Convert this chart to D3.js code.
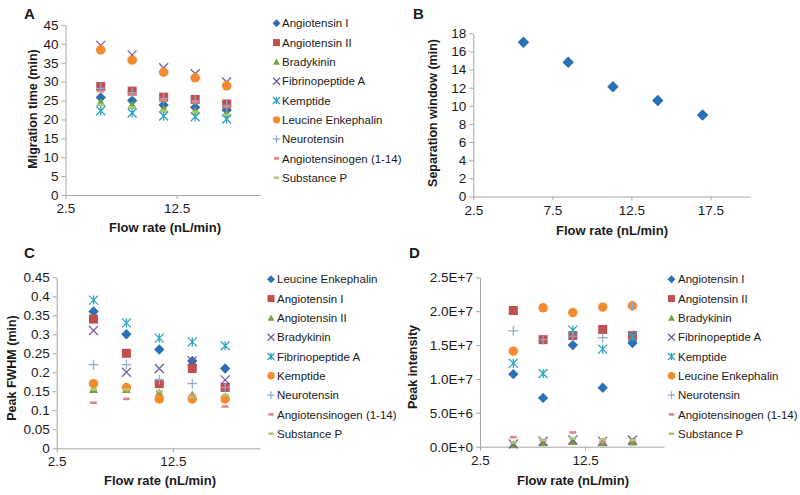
<!DOCTYPE html>
<html><head><meta charset="utf-8">
<script src="https://cdn.jsdelivr.net/npm/d3@7"></script>
<style>body{margin:0;background:#fff} svg text{font-family:Arial,"Liberation Sans",sans-serif;fill:#1a1a1a}</style>
</head><body><svg id="c" width="800" height="495"></svg>
<script>
// ---------- data ----------
const flowRates = [5.67, 8.5, 11.33, 14.17, 17.0];

const seriesNamesAD = ["Angiotensin I","Angiotensin II","Bradykinin","Fibrinopeptide A","Kemptide","Leucine Enkephalin","Neurotensin","Angiotensinogen (1-14)","Substance P"];
const seriesNamesC  = ["Leucine Enkephalin","Angiotensin I","Angiotensin II","Bradykinin","Fibrinopeptide A","Kemptide","Neurotensin","Angiotensinogen (1-14)","Substance P"];

// Panel A: migration time (min)
const migAngI     = [25.8, 25.0, 23.8, 23.2, 22.5];
const migAngII    = [28.7, 27.5, 25.9, 25.3, 24.1];
const migBrady    = [24.5, 23.8, 22.8, 22.3, 21.6];
const migFibA     = [39.6, 37.1, 33.7, 32.1, 29.9];
const migKemp     = [22.3, 21.7, 20.9, 20.7, 20.1];
const migLeuEnk   = [38.4, 35.7, 32.5, 31.0, 28.9];
const migNeuro    = [28.2, 27.1, 25.6, 25.0, 23.7];
const migAgen     = [27.5, 26.6, 25.2, 24.6, 23.4];
const migSubP     = [23.9, 23.2, 22.3, 21.9, 21.2];

// Panel B: separation window (min)
const sepWindow = [17.0, 14.8, 12.1, 10.6, 9.0];

// Panel C: peak FWHM (min) (legend order of panel C)
const fwhmLeuEnk = [0.36, 0.30, 0.26, 0.23, 0.21];
const fwhmAngI   = [0.34, 0.25, 0.17, 0.21, 0.16];
const fwhmAngII  = [0.155, 0.155, 0.145, 0.14, 0.135];
const fwhmBrady  = [0.31, 0.20, 0.21, 0.23, 0.18];
const fwhmFibA   = [0.39, 0.33, 0.29, 0.28, 0.27];
const fwhmKemp   = [0.17, 0.16, 0.13, 0.13, 0.13];
const fwhmNeuro  = [0.22, 0.22, 0.18, 0.17, 0.16];
const fwhmAgen   = [0.12, 0.13, 0.15, 0.14, 0.11];
const fwhmSubP   = [0.155, 0.155, 0.15, 0.135, 0.14];

// Panel D: peak intensity
const intAngI   = [10.7e6, 7.2e6, 15.0e6, 8.7e6, 15.3e6];
const intAngII  = [20.1e6, 15.8e6, 16.4e6, 17.3e6, 16.4e6];
const intBrady  = [0.3e6, 0.6e6, 0.8e6, 0.6e6, 0.7e6];
const intFibA   = [0.4e6, 0.8e6, 1.0e6, 0.8e6, 1.0e6];
const intKemp   = [12.3e6, 10.8e6, 17.2e6, 14.4e6, 16.2e6];
const intLeuEnk = [14.1e6, 20.5e6, 19.8e6, 20.6e6, 20.8e6];
const intNeuro  = [17.1e6, 15.8e6, 16.3e6, 16.1e6, 20.8e6];
const intAgen   = [1.4e6, 0.9e6, 2.1e6, 0.7e6, 0.9e6];
const intSubP   = [0.6e6, 1.0e6, 1.2e6, 1.1e6, 1.0e6];

// ticks
const xTicksA = [2.5, 12.5];
const xTicksB = [2.5, 7.5, 12.5, 17.5];
const xTicksC = [2.5, 12.5];
const xTicksD = [2.5, 12.5];
const yTicksA = [0,5,10,15,20,25,30,35,40,45];
const yTicksB = [0,2,4,6,8,10,12,14,16,18];
const yTicksC = [0,0.05,0.1,0.15,0.2,0.25,0.3,0.35,0.4,0.45];
const yTickLabelsC = ["0","0.05","0.1","0.15","0.2","0.25","0.3","0.35","0.4","0.45"];
const yTicksD = [0,5e6,1e7,1.5e7,2e7,2.5e7];
const yTickLabelsD = ["0.0E+0","5.0E+6","1.0E+7","1.5E+7","2.0E+7","2.5E+7"];

// ---------- styles ----------
const markerStyles = [
  {type:"diamond", color:"#2b70b4"},
  {type:"square",  color:"#c0504d"},
  {type:"triangle",color:"#77a33d"},
  {type:"x",       color:"#7a5ca0"},
  {type:"star",    color:"#2aa3c0"},
  {type:"circle",  color:"#f58a2e"},
  {type:"plus",    color:"#8fa9d3"},
  {type:"dash",    color:"#e0868a"},
  {type:"dash",    color:"#a9c97e"}
];

const svg = d3.select("#c");

function drawMarker(g, type, color, s) {
  const h = s/2;
  switch(type){
    case "diamond": g.append("path").attr("d",`M0,${-h*1.15}L${h*1.15},0L0,${h*1.15}L${-h*1.15},0Z`).attr("fill",color); break;
    case "square": g.append("rect").attr("x",-h).attr("y",-h).attr("width",s).attr("height",s).attr("fill",color); break;
    case "triangle": g.append("path").attr("d",`M0,${-h}L${h},${h*0.8}L${-h},${h*0.8}Z`).attr("fill",color); break;
    case "circle": g.append("circle").attr("r",h*1.05).attr("fill",color); break;
    case "x": g.append("path").attr("d",`M${-h},${-h}L${h},${h}M${h},${-h}L${-h},${h}`).attr("stroke",color).attr("stroke-width",1.3).attr("fill","none"); break;
    case "star": g.append("path").attr("d",`M${-h},${-h}L${h},${h}M${h},${-h}L${-h},${h}M0,${-h}L0,${h}`).attr("stroke",color).attr("stroke-width",1.3).attr("fill","none"); break;
    case "plus": g.append("path").attr("d",`M${-h*1.1},0L${h*1.1},0M0,${-h*1.1}L0,${h*1.1}`).attr("stroke",color).attr("stroke-width",1.2).attr("fill","none"); break;
    case "dash": g.append("rect").attr("x",-h*0.75).attr("y",-1.3).attr("width",h*1.5).attr("height",2.6).attr("fill",color); break;
  }
}

function panel(o){
  const x = d3.scaleLinear().domain([2.5,20]).range([o.x0,o.x1]);
  const y = d3.scaleLinear().domain([0,o.ymax]).range([o.y0,o.y1]);
  const ga = svg.append("g").attr("transform",`translate(0,${o.y0})`)
    .call(d3.axisBottom(x).tickValues(o.xticks).tickSize(4).tickSizeOuter(0).tickFormat(d3.format("")));
  const gy = svg.append("g").attr("transform",`translate(${o.x0},0)`)
    .call(d3.axisLeft(y).tickValues(o.yticks).tickSize(4).tickSizeOuter(0)
      .tickFormat((d,i)=> o.ylabels ? o.ylabels[i] : d3.format("")(d)));
  [ga,gy].forEach(g=>{
    g.select(".domain").attr("stroke","#a6a6a6");
    g.selectAll(".tick line").attr("stroke","#a6a6a6");
    g.selectAll(".tick text").attr("font-size",13.5).attr("fill","#1a1a1a");
  });
  ga.selectAll(".tick text").attr("dy","0.9em").attr("y",6);
  gy.selectAll(".tick text").attr("x",-7);
  // titles
  svg.append("text").attr("x",o.xtx).attr("y",o.xty).attr("text-anchor","middle")
    .attr("font-size",13).attr("font-weight","bold").text("Flow rate (nL/min)");
  svg.append("text").attr("transform",`translate(${o.ytx},${o.yty}) rotate(-90)`).attr("text-anchor","middle")
    .attr("dy","0.35em").attr("font-size",12.5).attr("font-weight","bold").text(o.ytitle);
  svg.append("text").attr("x",o.lx).attr("y",o.ly).attr("font-size",15).attr("font-weight","bold").text(o.letter);
  // series
  o.series.forEach((vals,si)=>{
    const st = markerStyles[si];
    vals.forEach((v,i)=>{
      const g = svg.append("g").attr("transform",`translate(${x(flowRates[i])},${y(v)})`);
      drawMarker(g, st.type, st.color, o.ms || 9);
    });
  });
  // legend
  if(o.names){
    o.names.forEach((n,i)=>{
      const yy = o.legY + i*19.3;
      const st = markerStyles[i];
      const g = svg.append("g").attr("transform",`translate(${o.legMx},${yy})`);
      drawMarker(g, st.type, st.color, 7);
      svg.append("text").attr("x",o.legTx).attr("y",yy).attr("dy","0.36em").attr("font-size",11.5).text(n);
    });
  }
}

panel({letter:"A", lx:24, ly:19, x0:65.5, x1:260, y0:195, y1:25, ymax:45,
  xticks:xTicksA, yticks:yTicksA, ytitle:"Migration time (min)", ytx:33, yty:109, xtx:165, xty:232,
  series:[migAngI,migAngII,migBrady,migFibA,migKemp,migLeuEnk,migNeuro,migAgen,migSubP],
  names:seriesNamesAD, legY:23.3, legMx:276.5, legTx:282});

panel({letter:"B", lx:413, ly:19, x0:473.3, x1:750, y0:196.5, y1:33.3, ymax:18,
  xticks:xTicksB, yticks:yTicksB, ytitle:"Separation window (min)", ytx:433, yty:113, xtx:612, xty:235,
  series:[sepWindow], ms:10});

panel({letter:"C", lx:24, ly:258, x0:56.7, x1:260, y0:448.3, y1:277.3, ymax:0.45,
  xticks:xTicksC, yticks:yTicksC, ylabels:yTickLabelsC, ytitle:"Peak FWHM (min)", ytx:12, yty:368, xtx:160, xty:485,
  series:[fwhmLeuEnk,fwhmAngI,fwhmAngII,fwhmBrady,fwhmFibA,fwhmKemp,fwhmNeuro,fwhmAgen,fwhmSubP],
  names:seriesNamesC, legY:279.3, legMx:271, legTx:277});

panel({letter:"D", lx:409, ly:258, x0:480, x1:664, y0:446.7, y1:277.3, ymax:2.5e7,
  xticks:xTicksD, yticks:yTicksD, ylabels:yTickLabelsD, ytitle:"Peak intensity", ytx:413, yty:367, xtx:573, xty:485,
  series:[intAngI,intAngII,intBrady,intFibA,intKemp,intLeuEnk,intNeuro,intAgen,intSubP],
  names:seriesNamesAD, legY:279.3, legMx:671.5, legTx:678});
</script></body></html>
